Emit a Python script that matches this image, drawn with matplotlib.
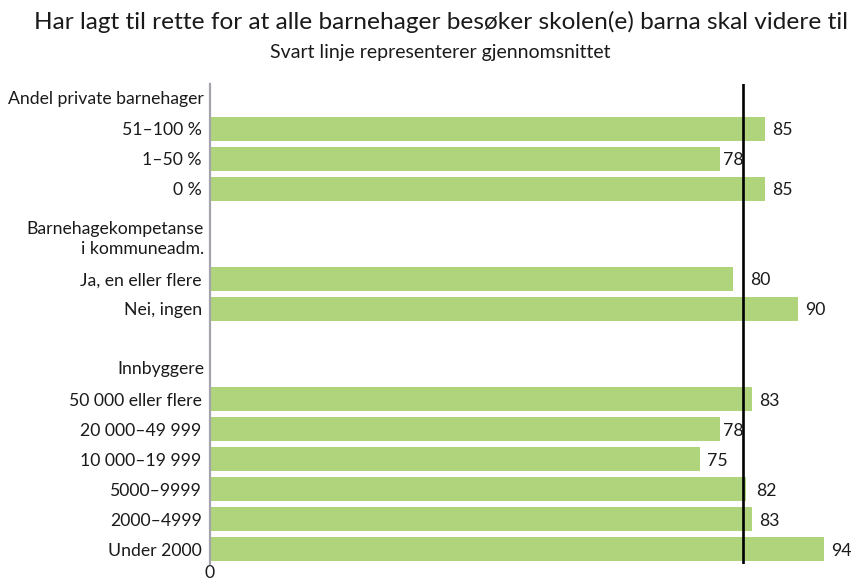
import numpy as np
import matplotlib.pyplot as plt

# -----------------------------------------
# Data
# -----------------------------------------
group_titles = [
    "Andel private barnehager",
    "Barnehagekompetanse\ni kommuneadm.",
    "Innbyggere",
]
group_categories = [
    ["51–100 %", "1–50 %", "0 %"],
    ["Ja, en eller flere", "Nei, ingen"],
    ["50 000 eller flere", "20 000–49 999", "10 000–19 999",
     "5000–9999", "2000–4999", "Under 2000"],
]
group_values = [
    [85, 78, 85],
    [80, 90],
    [83, 78, 75, 82, 83, 94],
]
average = 81.6

title = "Har lagt til rette for at alle barnehager besøker skolen(e) barna skal videre til"
subtitle = "Svart linje representerer gjennomsnittet"

bar_color = "#afd47b"
font = ["Lato", "DejaVu Sans"]
plt.rcParams["font.family"] = font
fs = 12.7

# -----------------------------------------
# Row layout: header row, bars, blank row per group
# -----------------------------------------
header_rows, bar_rows, bar_vals, bar_labels = [], [], [], []
row = 0
for g, (cats, vals) in enumerate(zip(group_categories, group_values)):
    header_rows.append(row)
    row += 1
    for c, v in zip(cats, vals):
        bar_rows.append(row)
        bar_vals.append(v)
        bar_labels.append(c)
        row += 1
    row += 1
n_rows = row - 1

fig = plt.figure(figsize=(8.53, 5.78), dpi=100)
ax = fig.add_axes([0.2462, 0.0242, 0.7508, 0.8305])

ax.barh(bar_rows, bar_vals, height=0.8, color=bar_color, zorder=2)
ax.set_ylim(n_rows - 0.5, -0.5)
xmax = 98
ax.set_xlim(0, xmax)

# average line
ax.axvline(average, color="black", lw=1.9, zorder=3)

# axis styling
for s in ["top", "right", "bottom"]:
    ax.spines[s].set_visible(False)
ax.spines["left"].set_color("#a4a4ac")
ax.spines["left"].set_linewidth(1.6)
ax.set_yticks(bar_rows)
ax.set_yticklabels(bar_labels, fontsize=fs, color="#1a1a1a")
ax.tick_params(axis="y", length=0, pad=6)
ax.set_xticks([0])
ax.set_xticklabels(["0"], fontsize=fs, color="#1a1a1a")
ax.tick_params(axis="x", length=0, pad=1)

# group headers
for r, t in zip(header_rows, group_titles):
    nlines = t.count("\n") + 1
    ax.text(-6 / 6.535, r - (nlines - 1) / 3, t, ha="right", va="center",
            fontsize=fs, color="#1a1a1a", linespacing=1.25,
            transform=ax.transData)

# value labels, kept clear of the average line
px_per_unit = 0.7508 * 853 / xmax
label_w = 19 / px_per_unit
for r, v in zip(bar_rows, bar_vals):
    start = v + 7 / px_per_unit
    if abs(v - average) < 3 / px_per_unit:
        start = average + 13 / px_per_unit
    elif start < average + 0.5 and start + label_w > average - 0.5:
        if v + 3 / px_per_unit + label_w < average:
            start = v + 3 / px_per_unit
        else:
            start = average + 7 / px_per_unit
    ax.text(start, r + 0.05, str(v), ha="left", va="center", fontsize=fs,
            color="#1a1a1a")

fig.text(0.517, 0.962, title, ha="center", va="center", fontsize=17.6,
         color="#1a1a1a")
fig.text(0.516, 0.910, subtitle, ha="center", va="center", fontsize=14,
         color="#1a1a1a")

fig.savefig("out.png", dpi=100)
